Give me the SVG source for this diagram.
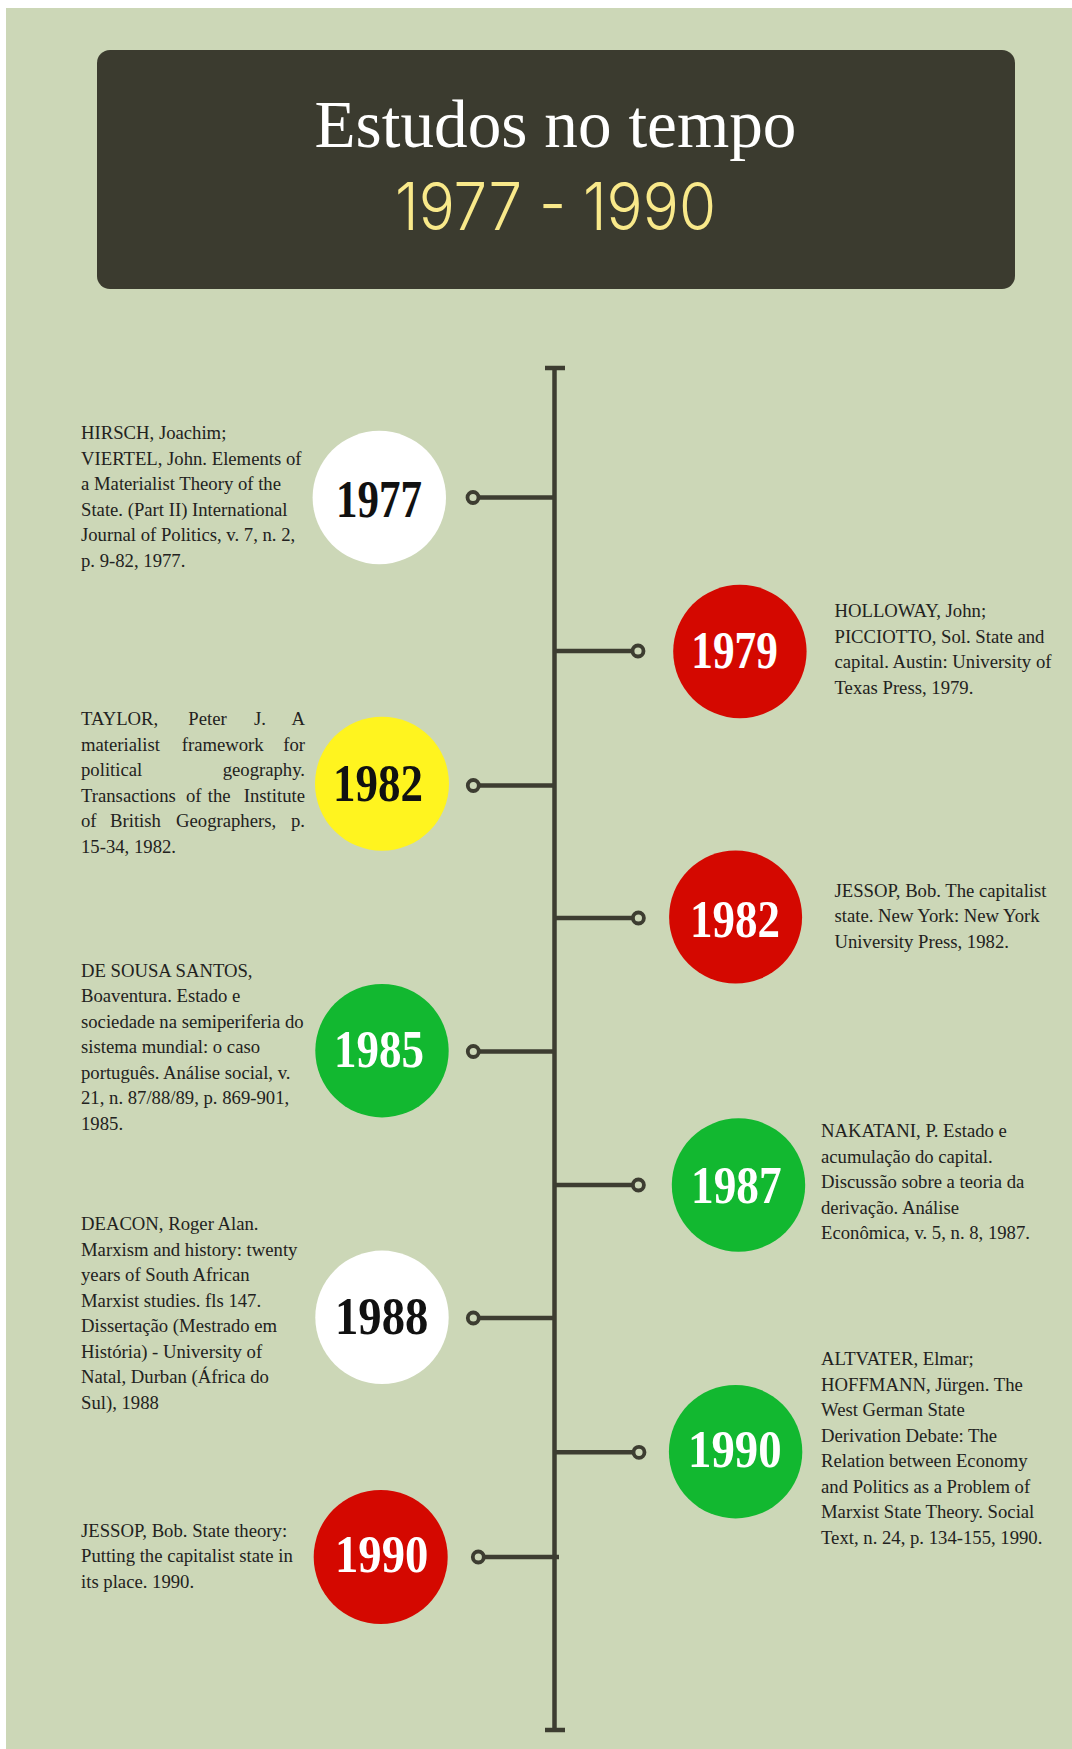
<svg xmlns="http://www.w3.org/2000/svg" width="1072" height="1749" viewBox="0 0 1072 1749">
<defs>
<style>
.bg{fill:#ccd7b7}
.ref{font-family:"Liberation Serif","Times New Roman",serif;font-size:18.7px;fill:#222220}
.yr{font-family:"Liberation Serif","Times New Roman",serif;font-weight:bold;font-size:53px;text-anchor:middle}
.br{stroke:#3d3d31;stroke-width:4.5;fill:none}
.ring{stroke:#3d3d31;stroke-width:3.8;fill:#ccd7b7}
.red{fill:#d40800}
.grn{fill:#12b830}
.yel{fill:#fff41f}
.wht{fill:#ffffff}
.tw{fill:#ffffff}
.tb{fill:#111111}
</style>
</defs>
<rect x="0" y="0" width="1072" height="1749" fill="#ffffff"/>
<rect class="bg" x="6" y="8" width="1066" height="1741"/>

<g id="title">
<rect x="97" y="50" width="918" height="239" rx="13" fill="#3b3b2f"/>
<text x="555.5" y="147" text-anchor="middle" font-family="Liberation Serif, Times New Roman, serif" font-size="67.5" fill="#ffffff" textLength="482" lengthAdjust="spacingAndGlyphs">Estudos no tempo</text>
<text x="555.5" y="230" text-anchor="middle" font-family="Inter, DejaVu Sans, sans-serif" font-weight="300" font-size="66" fill="#f9e98a" textLength="321" lengthAdjust="spacingAndGlyphs">1977 - 1990</text>
</g>

<g id="connectors">
<line class="br" x1="554.5" y1="368" x2="554.5" y2="1730" stroke-width="7"/>
<line class="br" x1="545" y1="368" x2="565" y2="368" stroke-width="4"/>
<line class="br" x1="545" y1="1730" x2="565" y2="1730" stroke-width="4"/>
<line class="br" x1="479" y1="497.5" x2="554" y2="497.5"/>
<circle class="ring" cx="473" cy="497.5" r="5.5"/>
<line class="br" x1="555" y1="651" x2="632.5" y2="651"/>
<circle class="ring" cx="638" cy="651" r="5.5"/>
<line class="br" x1="479" y1="785.5" x2="554" y2="785.5"/>
<circle class="ring" cx="473.3" cy="785.5" r="5.5"/>
<line class="br" x1="555" y1="918" x2="633" y2="918"/>
<circle class="ring" cx="638.4" cy="918" r="5.5"/>
<line class="br" x1="479" y1="1051.5" x2="554" y2="1051.5"/>
<circle class="ring" cx="473.3" cy="1051.5" r="5.5"/>
<line class="br" x1="555" y1="1185" x2="633" y2="1185"/>
<circle class="ring" cx="638.4" cy="1185" r="5.5"/>
<line class="br" x1="479" y1="1318" x2="554" y2="1318"/>
<circle class="ring" cx="473.3" cy="1318" r="5.5"/>
<line class="br" x1="555" y1="1452.3" x2="633.5" y2="1452.3"/>
<circle class="ring" cx="639" cy="1452.3" r="5.5"/>
<line class="br" x1="484" y1="1557" x2="559" y2="1557"/>
<circle class="ring" cx="478.3" cy="1557" r="5.5"/>
</g>

<g id="n1977">
<circle class="wht" cx="379.3" cy="497.5" r="66.7"/>
<text class="yr tb" x="379" y="517" textLength="86" lengthAdjust="spacingAndGlyphs">1977</text>
<text class="ref" x="81" y="439"><tspan x="81">HIRSCH, Joachim;</tspan><tspan x="81" dy="25.5">VIERTEL, John. Elements of</tspan><tspan x="81" dy="25.5">a Materialist Theory of the</tspan><tspan x="81" dy="25.5">State. (Part II) International</tspan><tspan x="81" dy="25.5">Journal of Politics, v. 7, n. 2,</tspan><tspan x="81" dy="25.5">p. 9-82, 1977.</tspan></text>
</g>

<g id="n1979">
<circle class="red" cx="739.9" cy="651.5" r="66.7"/>
<text class="yr tw" x="734.5" y="668" textLength="86.5" lengthAdjust="spacingAndGlyphs">1979</text>
<text class="ref" x="834.5" y="617"><tspan x="834.5">HOLLOWAY, John;</tspan><tspan x="834.5" dy="25.5">PICCIOTTO, Sol. State and</tspan><tspan x="834.5" dy="25.5">capital. Austin: University of</tspan><tspan x="834.5" dy="25.5">Texas Press, 1979.</tspan></text>
</g>

<g id="n1982a">
<circle class="yel" cx="382" cy="783.7" r="67"/>
<text class="yr tb" x="378" y="801" textLength="90" lengthAdjust="spacingAndGlyphs">1982</text>
<text class="ref" y="725"><tspan x="81">TAYLOR,</tspan><tspan x="188.3">Peter</tspan><tspan x="254">J.</tspan><tspan x="305" text-anchor="end">A</tspan></text>
<text class="ref" y="750.5"><tspan x="81">materialist</tspan><tspan x="181.7">framework</tspan><tspan x="305" text-anchor="end">for</tspan></text>
<text class="ref" y="776"><tspan x="81">political</tspan><tspan x="305" text-anchor="end">geography.</tspan></text>
<text class="ref" y="801.5"><tspan x="81">Transactions</tspan><tspan x="186">of</tspan><tspan x="207.7">the</tspan><tspan x="305" text-anchor="end">Institute</tspan></text>
<text class="ref" y="827"><tspan x="81">of</tspan><tspan x="110">British</tspan><tspan x="176">Geographers,</tspan><tspan x="305" text-anchor="end">p.</tspan></text>
<text class="ref" x="81" y="852.5">15-34, 1982.</text>
</g>

<g id="n1982b">
<circle class="red" cx="735.6" cy="917" r="66.5"/>
<text class="yr tw" x="735" y="936.7" textLength="90" lengthAdjust="spacingAndGlyphs">1982</text>
<text class="ref" x="834.5" y="896.7"><tspan x="834.5">JESSOP, Bob. The capitalist</tspan><tspan x="834.5" dy="25.5">state. New York: New York</tspan><tspan x="834.5" dy="25.5">University Press, 1982.</tspan></text>
</g>

<g id="n1985">
<circle class="grn" cx="382" cy="1050.7" r="66.7"/>
<text class="yr tw" x="379" y="1066.7" textLength="90" lengthAdjust="spacingAndGlyphs">1985</text>
<text class="ref" x="81" y="976.7"><tspan x="81">DE SOUSA SANTOS,</tspan><tspan x="81" dy="25.5">Boaventura. Estado e</tspan><tspan x="81" dy="25.5">sociedade na semiperiferia do</tspan><tspan x="81" dy="25.5">sistema mundial: o caso</tspan><tspan x="81" dy="25.5">português. Análise social, v.</tspan><tspan x="81" dy="25.5">21, n. 87/88/89, p. 869-901,</tspan><tspan x="81" dy="25.5">1985.</tspan></text>
</g>

<g id="n1987">
<circle class="grn" cx="738.5" cy="1185" r="66.7"/>
<text class="yr tw" x="736.3" y="1203.3" textLength="90.6" lengthAdjust="spacingAndGlyphs">1987</text>
<text class="ref" x="821" y="1137.3"><tspan x="821">NAKATANI, P. Estado e</tspan><tspan x="821" dy="25.5">acumulação do capital.</tspan><tspan x="821" dy="25.5">Discussão sobre a teoria da</tspan><tspan x="821" dy="25.5">derivação. Análise</tspan><tspan x="821" dy="25.5">Econômica, v. 5, n. 8, 1987.</tspan></text>
</g>

<g id="n1988">
<circle class="wht" cx="382" cy="1317.3" r="66.7"/>
<text class="yr tb" x="381.7" y="1334" textLength="93.3" lengthAdjust="spacingAndGlyphs">1988</text>
<text class="ref" x="81" y="1230"><tspan x="81">DEACON, Roger Alan.</tspan><tspan x="81" dy="25.5">Marxism and history: twenty</tspan><tspan x="81" dy="25.5">years of South African</tspan><tspan x="81" dy="25.5">Marxist studies. fls 147.</tspan><tspan x="81" dy="25.5">Dissertação (Mestrado em</tspan><tspan x="81" dy="25.5">História) - University of</tspan><tspan x="81" dy="25.5">Natal, Durban (África do</tspan><tspan x="81" dy="25.5">Sul), 1988</tspan></text>
</g>

<g id="n1990a">
<circle class="grn" cx="735.6" cy="1451.7" r="66.7"/>
<text class="yr tw" x="734.8" y="1467.3" textLength="93.6" lengthAdjust="spacingAndGlyphs">1990</text>
<text class="ref" x="821" y="1365"><tspan x="821">ALTVATER, Elmar;</tspan><tspan x="821" dy="25.5">HOFFMANN, Jürgen. The</tspan><tspan x="821" dy="25.5">West German State</tspan><tspan x="821" dy="25.5">Derivation Debate: The</tspan><tspan x="821" dy="25.5">Relation between Economy</tspan><tspan x="821" dy="25.5">and Politics as a Problem of</tspan><tspan x="821" dy="25.5">Marxist State Theory. Social</tspan><tspan x="821" dy="25.5">Text, n. 24, p. 134-155, 1990.</tspan></text>
</g>

<g id="n1990b">
<circle class="red" cx="380.7" cy="1557" r="67"/>
<text class="yr tw" x="381.7" y="1571.7" textLength="93.3" lengthAdjust="spacingAndGlyphs">1990</text>
<text class="ref" x="81" y="1536.7"><tspan x="81">JESSOP, Bob. State theory:</tspan><tspan x="81" dy="25.5">Putting the capitalist state in</tspan><tspan x="81" dy="25.5">its place. 1990.</tspan></text>
</g>
</svg>
